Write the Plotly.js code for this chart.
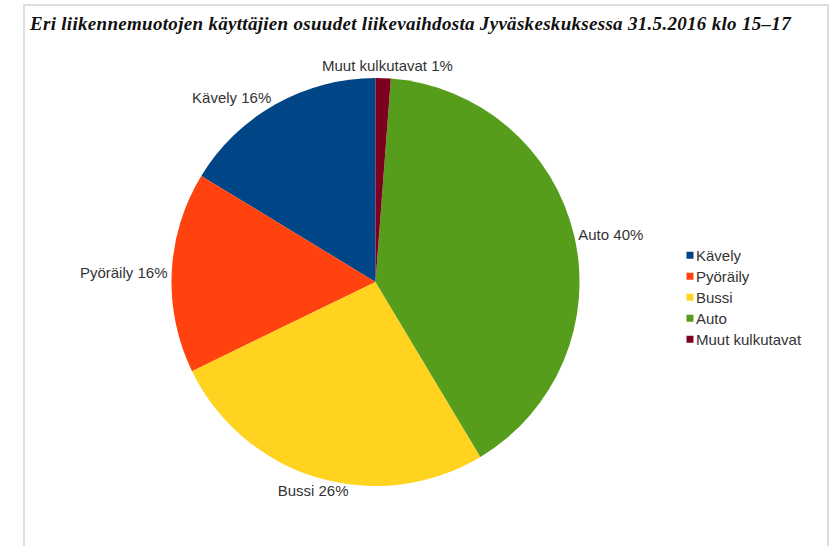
<!DOCTYPE html>
<html>
<head>
<meta charset="utf-8">
<script src="https://cdn.plot.ly/plotly-3.0.1.min.js"></script>
<style>
  html, body { margin: 0; padding: 0; background: #ffffff; }
  #wrap { position: relative; width: 833px; height: 546px; overflow: hidden; }
  #frame { position: absolute; left: 23px; top: 4px; width: 806px; height: 560px;
           border: 2px solid #dedede; box-sizing: border-box; pointer-events: none; z-index: 5; }
  #chart { position: absolute; left: 0; top: 0; width: 833px; height: 546px; }
  #chart .gtitle { letter-spacing: 0.3px; }
</style>
</head>
<body>
<div id="wrap">
  <div id="chart"></div>
  <div id="frame"></div>
</div>
<script>
// Data (in legend order)
var categories = ["Kävely", "Pyöräily", "Bussi", "Auto", "Muut kulkutavat"];
var shares = [16.3, 15.9, 26.4, 40.2, 1.2];
var colors = ["#004586", "#ff420e", "#ffd320", "#579d1c", "#7e0021"];
var chartTitle = "Eri liikennemuotojen käyttäjien osuudet liikevaihdosta Jyväskeskuksessa 31.5.2016 klo 15–17";

var W = 833, H = 546;
var cx = 375.5, cy = 282, r = 204;

// LibreOffice draws the first slice starting at 12 o'clock going counterclockwise;
// Plotly places the first slice clockwise of the start, so rotate by its angle.
var total = shares.reduce(function (a, b) { return a + b; }, 0);
var startRotation = -360 * shares[0] / total;

var trace = {
  type: "pie",
  labels: categories,
  values: shares,
  sort: false,
  direction: "counterclockwise",
  rotation: startRotation,
  marker: { colors: colors, line: { width: 0 } },
  textposition: "outside",
  texttemplate: "%{label} %{percent:.0%}",
  textfont: { family: "Liberation Sans, Arial, sans-serif", size: 15, color: "#333333" },
  hoverinfo: "label+percent",
  domain: {
    x: [(cx - r) / W, (cx + r) / W],
    y: [(H - (cy + r)) / H, (H - (cy - r)) / H]
  },
  showlegend: true
};

var layout = {
  width: W,
  height: H,
  margin: { l: 0, r: 0, t: 0, b: 0, pad: 0 },
  paper_bgcolor: "#ffffff",
  plot_bgcolor: "#ffffff",
  title: {
    text: "<b><i>" + chartTitle + "</i></b>",
    x: 30 / W,
    xanchor: "left",
    xref: "container",
    y: 1 - 23 / H,
    yanchor: "middle",
    yref: "container",
    font: { family: "Liberation Serif, serif", size: 19, color: "#111111" }
  },
  legend: {
    x: 656 / W,
    xanchor: "left",
    y: 1 - 239 / H,
    yanchor: "top",
    font: { family: "Liberation Sans, Arial, sans-serif", size: 15, color: "#333333" },
    bgcolor: "rgba(0,0,0,0)",
    tracegroupgap: 0
  },
  showlegend: true
};

Plotly.newPlot("chart", [trace], layout, { displayModeBar: false, staticPlot: true }).then(function () {
  // smaller legend swatches sitting right before the text, as in the reference
  document.querySelectorAll("#chart .legendpoints path").forEach(function (p) {
    p.setAttribute("d", "M17.5,3.5H10.5V-3.5H17.5Z");
  });
  // legend row spacing like the reference (21 px)
  var items = document.querySelectorAll("#chart .legend .traces");
  var y0 = null;
  items.forEach(function (g, i) {
    var m = /translate\(\s*([-\d.]+)[ ,]+([-\d.]+)\s*\)/.exec(g.getAttribute("transform") || "");
    if (!m) return;
    if (y0 === null) y0 = parseFloat(m[2]);
    g.setAttribute("transform", "translate(" + m[1] + "," + (y0 + i * 21) + ")");
  });
  // LibreOffice centres labels of slices near the top / bottom on their anchor point
  var slices = document.querySelectorAll("#chart .slice");
  var cum = 0;
  slices.forEach(function (s, i) {
    var v = shares[i];
    var midDeg = (cum + v / 2) / total * 360; // counterclockwise from 12 o'clock
    cum += v;
    var a = midDeg * Math.PI / 180;
    var sx = -Math.sin(a), cyv = Math.cos(a); // screen direction (x right, up positive)
    if (Math.abs(sx) < Math.sin(20 * Math.PI / 180)) {
      var t = s.querySelector(".slicetext");
      if (!t) return;
      var bb = t.getBBox();
      var dx = sx >= 0 ? -bb.width / 2 : bb.width / 2;
      var dy = cyv > 0 ? -4 : 5;
      t.setAttribute("transform", "translate(" + dx + "," + dy + ")");
    }
  });
});
</script>
</body>
</html>
